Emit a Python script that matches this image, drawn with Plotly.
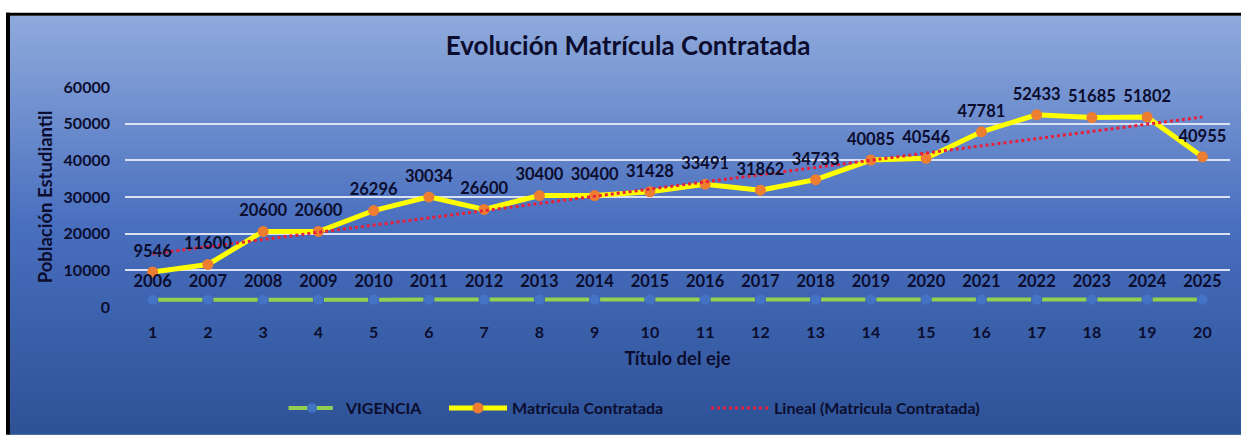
import base64
import struct
import zlib
import numpy as np
import plotly.graph_objects as go

# ---- data ----
x_idx = list(range(1, 21))
vigencia = [2006, 2007, 2008, 2009, 2010, 2011, 2012, 2013, 2014, 2015,
            2016, 2017, 2018, 2019, 2020, 2021, 2022, 2023, 2024, 2025]
matricula = [9546, 11600, 20600, 20600, 26296, 30034, 26600, 30400, 30400, 31428,
             33491, 31862, 34733, 40085, 40546, 47781, 52433, 51685, 51802, 40955]
y_ticks = [0, 10000, 20000, 30000, 40000, 50000, 60000]

# linear trend (least squares) of Matricula Contratada
slope, intercept = np.polyfit(x_idx, matricula, 1)
trend = [slope * xi + intercept for xi in x_idx]

W, H = 1241, 436
L, R, T, B = 125, 11, 87, 127
pw, ph = W - L - R, H - T - B

def px_x(p):
    return (p - L) / pw

def px_y(p):
    return (H - B - p) / ph

TXT = "#0c0d2e"
FONT = "Lato"
step = pw / 20.0

# ---- gradient background image (vertical) ----
stops = [(0.0, (143, 170, 220)), (0.51, (72, 110, 190)), (1.0, (45, 82, 150))]
def col_at(t):
    for (a, ca), (b, cb) in zip(stops[:-1], stops[1:]):
        if t <= b:
            u = (t - a) / (b - a)
            return bytes(int(round(ca[i] + (cb[i] - ca[i]) * u)) for i in range(3))
    return bytes(stops[-1][1])

gh = 256
raw = b"".join(b"\x00" + col_at(i / (gh - 1)) * 4 for i in range(gh))
def chunk(tag, data):
    c = struct.pack(">I", len(data)) + tag + data
    return c + struct.pack(">I", zlib.crc32(tag + data) & 0xffffffff)
png = (b"\x89PNG\r\n\x1a\n" + chunk(b"IHDR", struct.pack(">IIBBBBB", 4, gh, 8, 2, 0, 0, 0))
       + chunk(b"IDAT", zlib.compress(raw)) + chunk(b"IEND", b""))
grad_src = "data:image/png;base64," + base64.b64encode(png).decode()

fig = go.Figure()

fig.add_trace(go.Scatter(
    x=x_idx, y=vigencia, name="VIGENCIA", mode="lines+markers",
    line=dict(color="#92D050", width=4,
              dash="0px,%.2fpx,%.2fpx,%.2fpx" % (5.5, step - 11, 5.5)),
    marker=dict(color="#4472C4", size=10), legend="legend",
))
fig.add_trace(go.Scatter(
    x=x_idx, y=matricula, name="Matricula Contratada", mode="lines+markers",
    line=dict(color="#FFFF00", width=5),
    marker=dict(color="#ED7D31", size=11), legend="legend2",
))
fig.add_trace(go.Scatter(
    x=x_idx, y=trend, name="Lineal (Matricula Contratada)", mode="lines",
    line=dict(color="#E8203A", width=3, dash="dot"), legend="legend3",
))
# data labels
fig.add_trace(go.Scatter(
    x=x_idx, y=vigencia, mode="markers+text", showlegend=False,
    marker=dict(size=12, color="rgba(0,0,0,0)"),
    text=[str(v) for v in vigencia], textposition="top center",
    textfont=dict(family=FONT, size=16.5, color=TXT, weight="bold"),
    hoverinfo="skip",
))
fig.add_trace(go.Scatter(
    x=x_idx, y=matricula, mode="markers+text", showlegend=False,
    marker=dict(size=16, color="rgba(0,0,0,0)"),
    text=[str(v) for v in matricula], textposition="top center",
    textfont=dict(family=FONT, size=16.5, color=TXT, weight="bold"),
    hoverinfo="skip",
))

shapes = [
    dict(type="rect", xref="paper", yref="paper", layer="below",
         x0=px_x(6), x1=px_x(W + 2), y0=px_y(15), y1=px_y(12),
         fillcolor="black", line=dict(width=0)),
    dict(type="rect", xref="paper", yref="paper", layer="below",
         x0=px_x(6), x1=px_x(10), y0=px_y(H + 2), y1=px_y(12),
         fillcolor="black", line=dict(width=0)),
]
images = [dict(source=grad_src, xref="paper", yref="paper",
               x=px_x(10), y=px_y(15), sizex=(W + 2 - 10) / pw, sizey=(H + 2 - 15) / ph,
               xanchor="left", yanchor="top", sizing="stretch", layer="below")]

leg_font = dict(family=FONT, size=16, color=TXT, weight="bold")
def leg(xpx):
    return dict(orientation="h", x=px_x(xpx), xanchor="left",
                y=px_y(411), yanchor="middle", bgcolor="rgba(0,0,0,0)",
                font=leg_font, itemwidth=58)

fig.update_layout(
    width=W, height=H,
    margin=dict(l=L, r=R, t=T, b=B),
    paper_bgcolor="white", plot_bgcolor="rgba(0,0,0,0)",
    shapes=shapes, images=images,
    title=dict(text="Evolución Matrícula Contratada", x=px_x(628), xref="paper",
               xanchor="center", y=1 - 46 / H, yanchor="middle",
               font=dict(family=FONT, size=26, color=TXT, weight="bold")),
    xaxis=dict(range=[0.5, 20.5], tickvals=x_idx, ticktext=[str(v) for v in x_idx],
               showgrid=False, zeroline=False, showline=False, ticks="",
               ticklabelstandoff=14,
               tickfont=dict(family=FONT, size=16, color=TXT, weight="bold"),
               title=dict(text="Título del eje", standoff=12,
                          font=dict(family=FONT, size=18.5, color=TXT, weight="bold"))),
    yaxis=dict(range=[0, 60000], tickvals=y_ticks, ticktext=[str(v) for v in y_ticks],
               showgrid=True, gridcolor="#D9E1F2", gridwidth=2,
               zeroline=False, showline=False, ticks="",
               ticklabelstandoff=14,
               tickfont=dict(family=FONT, size=16, color=TXT, weight="bold"),
               title=dict(text="Población Estudiantil", standoff=6,
                          font=dict(family=FONT, size=18.5, color=TXT, weight="bold"))),
    legend=leg(278),
    legend2=leg(444),
    legend3=leg(706),
    showlegend=True,
)

fig.write_html("out.html", config={"displayModeBar": False},
               post_script="document.body.style.margin='0';document.body.style.overflow='hidden';")
